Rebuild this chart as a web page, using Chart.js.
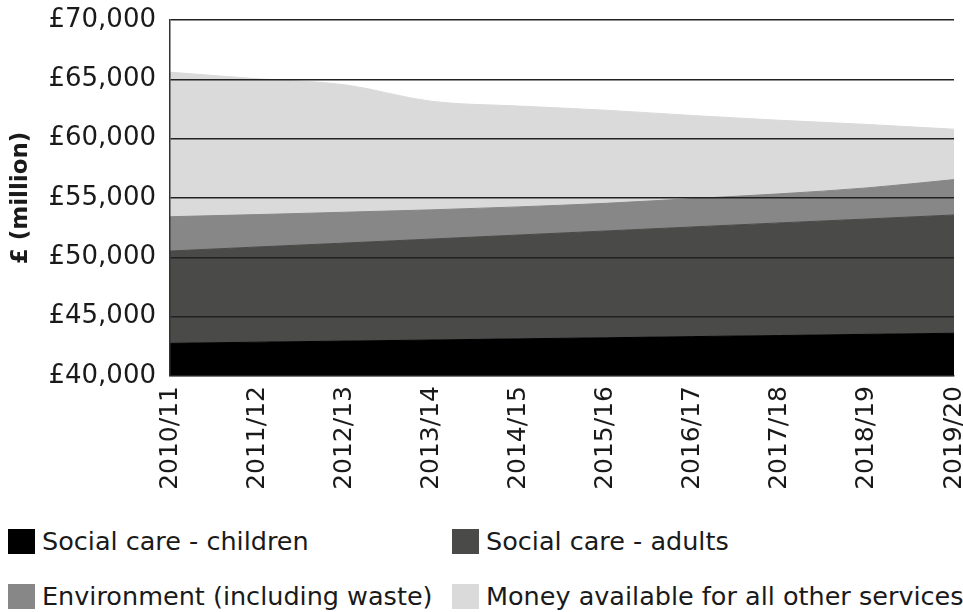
<!DOCTYPE html>
<html>
<head>
<meta charset="utf-8">
<script src="https://cdn.jsdelivr.net/npm/chart.js@4.4.1/dist/chart.umd.min.js"></script>
<style>
    body { margin: 0; background: #fff; width: 963px; height: 612px; overflow: hidden; font-family: "DejaVu Sans", sans-serif; }
    #ChartWrap { position: absolute; left: 0; top: 0; width: 963px; height: 500px; }
    .legend-item { position: absolute; display: flex; align-items: center; font-size: 25.5px; color: #1a1a1a; transform: translateY(-50%); white-space: nowrap; }
    .legend-box { width: 27px; height: 25px; margin-right: 7px; }
</style>
</head>
<body>
<div id="ChartWrap"><canvas id="ChartBudget"></canvas></div>
<div id="DivLegend"></div>
<script>
// Years on the x axis
const years = ['2010/11', '2011/12', '2012/13', '2013/14', '2014/15', '2015/16', '2016/17', '2017/18', '2018/19', '2019/20'];

// Spending per service, £ million (stacked from the bottom)
const socialCareChildren = [42750, 42850, 42940, 43030, 43130, 43220, 43320, 43410, 43510, 43600];
const socialCareAdults = [7780, 8020, 8260, 8510, 8750, 9000, 9240, 9490, 9720, 9970];
const environment = [2890, 2730, 2600, 2460, 2370, 2330, 2390, 2450, 2620, 2980];
const otherServices = [12180, 11450, 10750, 9150, 8500, 7850, 7000, 6200, 5350, 4250];

const seriesNames = ['Social care - children', 'Social care - adults', 'Environment (including waste)', 'Money available for all other services'];
const seriesColors = ['#000000', '#4a4a49', '#878787', '#dadada'];

// y axis ticks
const yMin = 40000;
const yMax = 70000;
const yStep = 5000;

const seriesData = [socialCareChildren, socialCareAdults, environment, otherServices];

const datasets = seriesData.map((values, i) => ({
    label: seriesNames[i],
    data: values,
    backgroundColor: seriesColors[i],
    borderColor: seriesColors[i],
    borderWidth: 1,
    pointRadius: 0,
    fill: i === 0 ? 'origin' : '-1',
    cubicInterpolationMode: 'monotone'
}));

const ctx = document.getElementById('ChartBudget');
new Chart(ctx, {
    type: 'line',
    data: {
        labels: years,
        datasets: datasets
    },
    options: {
        responsive: true,
        maintainAspectRatio: false,
        animation: false,
        layout: {
            padding: { top: 20, right: 9, left: 0, bottom: 0 }
        },
        plugins: {
            legend: { display: false },
            tooltip: { enabled: false },
            title: { display: false }
        },
        scales: {
            x: {
                offset: false,
                grid: { display: false },
                border: { display: true, color: '#aaaaaa', width: 1.5 },
                ticks: {
                    minRotation: 90,
                    maxRotation: 90,
                    padding: 2,
                    color: '#1a1a1a',
                    font: { family: 'DejaVu Sans', size: 25 }
                },
                afterFit: (scale) => {
                    scale.height = 124;
                    scale.paddingLeft = 0;
                    scale.paddingRight = 0;
                }
            },
            y: {
                stacked: true,
                min: yMin,
                max: yMax,
                grid: { color: '#222222', lineWidth: 1.5, drawTicks: false, z: 1 },
                border: { display: true, color: '#333333', width: 1.5, z: 1 },
                ticks: {
                    stepSize: yStep,
                    padding: 14,
                    color: '#1a1a1a',
                    font: { family: 'DejaVu Sans', size: 26 },
                    callback: (value) => '£' + value.toLocaleString('en-GB')
                },
                title: {
                    display: true,
                    text: '£ (million)',
                    color: '#1a1a1a',
                    padding: { top: 7, bottom: 0 },
                    font: { family: 'DejaVu Sans', size: 23, weight: 'bold' }
                },
                afterFit: (scale) => {
                    scale.width = 170;
                    scale.paddingTop = 0;
                    scale.paddingBottom = 0;
                }
            }
        }
    }
});

// Legend, two columns
const legendSpots = [[8, 541], [452, 541], [8, 596], [452, 596]];
seriesNames.forEach((name, i) => {
    const item = `
        <div class="legend-item" style="left:${legendSpots[i][0]}px; top:${legendSpots[i][1]}px;">
            <div class="legend-box" style="background:${seriesColors[i]};"></div>
            <span>${name}</span>
        </div>
    `;
    document.getElementById('DivLegend').insertAdjacentHTML('beforeend', item);
});
</script>
</body>
</html>
